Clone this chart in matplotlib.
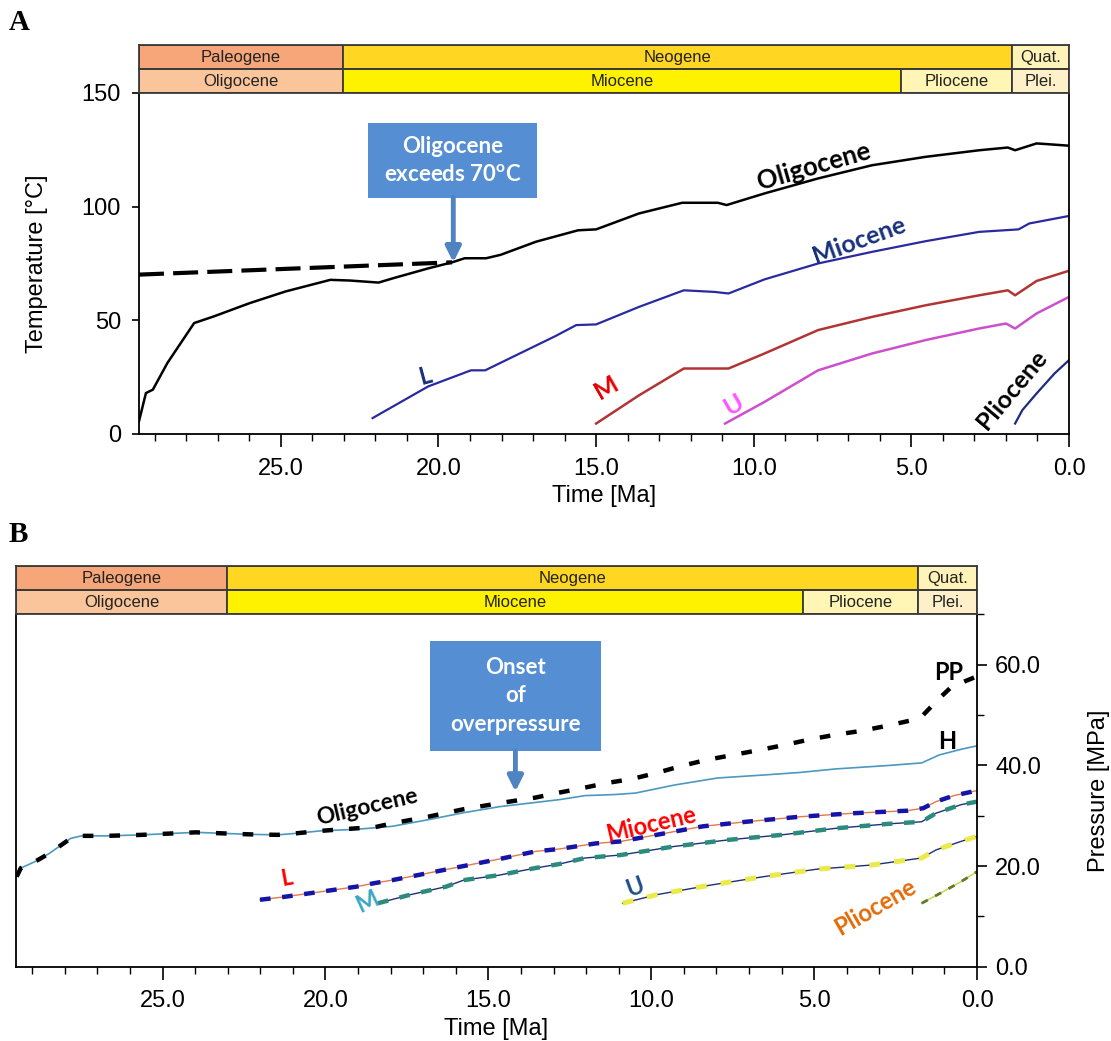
import numpy as np
import matplotlib
matplotlib.use("Agg")
import matplotlib.pyplot as plt
from matplotlib.patches import Rectangle
from matplotlib.ticker import MultipleLocator, FormatStrFormatter

plt.rcParams['font.family'] = ['Liberation Sans', 'DejaVu Sans']

# geologic time scale
periods = ["Paleogene", "Neogene", "Quat."]
period_bounds = [29.5, 23.03, 1.8, 0.0]
period_colors = ["#f6a679", "#ffd722", "#fff3b8"]
epochs = ["Oligocene", "Miocene", "Pliocene", "Plei."]
epoch_bounds = [29.5, 23.03, 5.33, 1.8, 0.0]
epoch_colors = ["#fbc59c", "#fff200", "#fff5b4", "#fef1c9"]

# ---- panel A : temperature history [Ma, degC]
a_olig_age = [29.5, 29.28, 29.06, 28.6, 27.75, 27.13, 26.0, 24.85, 23.43, 22.81, 21.9, 21.44,
              20.31, 19.57, 19.17, 18.49, 18.03, 16.9, 15.57, 15.0, 13.64, 12.27, 11.14, 10.86,
              9.66, 7.96, 6.25, 4.55, 2.85, 1.94, 1.71, 1.03, 0.70, 0.0]
a_olig_t = [5.6, 18.0, 19.5, 31.2, 48.8, 51.7, 57.5, 62.7, 67.8, 67.5, 66.6, 68.5,
            72.9, 75.5, 77.3, 77.3, 78.8, 84.6, 89.6, 90.0, 97.0, 101.7, 101.7, 100.7,
            105.8, 112.4, 118.2, 121.9, 124.8, 126.0, 124.8, 127.8, 127.5, 126.8]
a_trend_age = [29.5, 19.57]
a_trend_t = [70.1, 75.5]
a_mio_age = [22.09, 20.33, 18.97, 18.52, 16.3, 15.63, 15.0, 13.64, 12.22, 11.25, 10.8, 9.66,
             7.96, 6.25, 4.55, 2.85, 1.6, 1.26, 0.0]
a_mio_t = [7.0, 20.9, 28.0, 28.0, 43.0, 47.9, 48.2, 55.9, 63.2, 62.5, 61.8, 68.0,
           75.0, 80.1, 84.8, 88.9, 90.0, 92.6, 95.9]
a_m_age = [15.0, 13.64, 12.22, 10.8, 9.66, 7.96, 6.25, 4.55, 2.85, 1.94, 1.71, 1.03, 0.0]
a_m_t = [4.6, 17.0, 28.8, 28.8, 35.4, 45.7, 51.5, 56.6, 61.0, 63.2, 61.0, 67.3, 71.8]
a_u_age = [10.91, 9.66, 7.96, 6.25, 4.55, 2.85, 2.0, 1.71, 1.03, 0.0]
a_u_t = [4.6, 14.1, 28.0, 35.4, 41.3, 46.4, 48.6, 46.4, 53.0, 60.3]
a_plio_age = [1.71, 1.48, 1.03, 0.46, 0.0]
a_plio_t = [4.6, 10.5, 17.8, 26.6, 32.5]

# ---- panel B : pressure history [Ma, MPa]
b_h_age = [29.48, 29.35, 28.91, 28.48, 27.82, 27.49, 26.72, 25.63, 23.98, 22.34, 21.46, 20.91,
           20.14, 19.05, 17.95, 16.85, 15.76, 14.66, 12.82, 12.03, 11.15, 10.49, 9.29, 7.97,
           6.54, 5.44, 4.34, 2.69, 1.7, 1.15, 0.49, 0.0]
b_h_p = [17.9, 19.6, 20.9, 22.5, 25.5, 26.0, 26.0, 26.2, 26.7, 26.3, 26.2, 26.5,
         27.0, 27.3, 27.9, 29.2, 30.6, 31.8, 33.2, 34.0, 34.2, 34.5, 36.1, 37.5,
         38.1, 38.6, 39.3, 40.0, 40.5, 42.1, 43.2, 43.9]
b_pp_age = [29.48, 29.35, 28.91, 28.48, 27.82, 27.49, 26.72, 25.63, 23.98, 22.34, 21.46, 20.91,
            20.14, 19.05, 18.5, 17.95, 16.85, 15.76, 14.66, 13.56, 12.82, 12.03, 11.37, 10.6,
            9.84, 9.07, 8.3, 7.47, 6.65, 5.88, 5.11, 4.34, 3.52, 2.75, 1.92, 1.7, 1.21, 0.82,
            0.38, 0.0]
b_pp_p = [17.9, 19.6, 20.9, 22.5, 25.5, 26.0, 26.0, 26.2, 26.7, 26.3, 26.2, 26.5,
          27.0, 27.5, 27.7, 28.5, 29.8, 31.3, 32.5, 33.6, 34.6, 35.6, 36.5, 37.3,
          38.5, 39.9, 41.1, 42.1, 43.1, 44.1, 45.2, 46.1, 46.9, 47.9, 49.1, 49.7, 53.0, 55.4,
          56.7, 57.7]
b_l_age = [22.01, 21.24, 20.14, 19.05, 18.5, 17.95, 16.85, 15.76, 14.66, 13.56, 12.82, 11.7,
           10.93, 9.84, 8.41, 7.09, 5.44, 3.79, 2.14, 1.65, 1.26, 0.71, 0.0]
b_l_p = [13.3, 13.9, 14.9, 15.9, 16.6, 17.2, 18.6, 20.0, 21.4, 22.9, 23.4, 24.5,
         24.9, 26.2, 27.9, 28.8, 29.8, 30.5, 31.0, 31.5, 32.8, 34.0, 35.0]
b_m_age = [18.39, 17.4, 16.3, 15.76, 14.66, 13.56, 12.82, 12.03, 10.93, 9.29, 7.64, 5.99,
           4.34, 2.69, 1.7, 1.26, 0.49, 0.0]
b_m_p = [12.6, 14.3, 15.9, 17.2, 18.2, 19.6, 20.4, 21.6, 22.2, 23.9, 25.2, 26.2,
         27.5, 28.4, 28.8, 30.5, 32.2, 32.8]
b_u_age = [10.88, 9.84, 8.19, 6.54, 4.89, 3.24, 1.7, 1.26, 0.49, 0.0]
b_u_p = [12.6, 14.3, 16.2, 17.9, 19.4, 20.2, 21.6, 23.2, 24.9, 25.9]
b_plio_age = [1.7, 1.04, 0.49, 0.0]
b_plio_p = [12.6, 14.9, 16.9, 18.9]

XMAX = 29.5
LBL = dict(family=['Lato', 'DejaVu Sans'], fontweight='bold')
BOXC = "#568ed4"


def draw_bands(fig, left, bottom, width, h_low, h_up):
    rows = [(bottom + h_low, h_up, periods, period_bounds, period_colors),
            (bottom, h_low, epochs, epoch_bounds, epoch_colors)]
    for y0, h, names, bounds, cols in rows:
        bx = fig.add_axes([left, y0, width, h])
        bx.set_xlim(XMAX, 0)
        bx.set_ylim(0, 1)
        for i, name in enumerate(names):
            bx.barh(0.5, bounds[i + 1] - bounds[i], left=bounds[i], height=1.0,
                    color=cols[i], edgecolor="#3a3a3a", linewidth=1.3)
            bx.text((bounds[i] + bounds[i + 1]) / 2, 0.47, name, ha="center", va="center",
                    fontsize=12, color="#222222")
        bx.set_xticks([])
        bx.set_yticks([])
        for s in bx.spines.values():
            s.set_linewidth(1.3)
            s.set_color("#3a3a3a")


def style_time_axis(ax):
    ax.set_xlim(XMAX, 0)
    ax.xaxis.set_major_locator(MultipleLocator(5))
    ax.xaxis.set_minor_locator(MultipleLocator(1))
    ax.xaxis.set_major_formatter(FormatStrFormatter('%.1f'))
    ax.tick_params(axis='x', which='major', length=9, width=1.2, labelsize=17, pad=8)
    ax.tick_params(axis='x', which='minor', length=5, width=1.0)
    ax.set_xlabel("Time [Ma]", fontsize=17, labelpad=4)
    ax.spines['top'].set_visible(False)
    for s in ['left', 'right', 'bottom']:
        ax.spines[s].set_linewidth(1.3)


def callout(ax, x0, x1, y0, y1, text, tip_x, tip_y):
    ax.add_patch(Rectangle((x1, y0), x0 - x1, y1 - y0, facecolor=BOXC, edgecolor="none",
                           zorder=5, clip_on=False))
    ax.text((x0 + x1) / 2, (y0 + y1) / 2, text, ha="center", va="center", color="white",
            fontsize=16, linespacing=1.45, zorder=6, **LBL)
    ax.annotate("", xy=(tip_x, tip_y), xytext=(tip_x, y0),
                arrowprops=dict(arrowstyle="-|>,head_length=0.9,head_width=0.45",
                                color="#4f83c2", lw=3.5, shrinkA=0, shrinkB=0), zorder=6)


fig = plt.figure(figsize=(11.11, 10.41), dpi=100)

fig.text(0.008, 0.978, "A", fontsize=21, fontweight="bold", family="Liberation Serif", va="center")
fig.text(0.008, 0.487, "B", fontsize=21, fontweight="bold", family="Liberation Serif", va="center")

# ---------------- panel A
axA = fig.add_axes([0.1251, 0.5831, 0.8371, 0.3276])
draw_bands(fig, 0.1251, 0.9107, 0.8371, 0.0231, 0.0231)
axA.plot(a_trend_age, a_trend_t, color="black", lw=3, dashes=(6, 2.2))
axA.plot(a_olig_age, a_olig_t, color="black", lw=1.8)
axA.plot(a_mio_age, a_mio_t, color="#2a2aa0", lw=1.6)
axA.plot(a_m_age, a_m_t, color="#b23434", lw=1.8)
axA.plot(a_u_age, a_u_t, color="#cc4fcc", lw=1.8)
axA.plot(a_plio_age, a_plio_t, color="#1f2a80", lw=1.6)
axA.set_ylim(0, 150)
axA.yaxis.set_major_locator(MultipleLocator(50))
axA.tick_params(axis='y', length=5, width=1.2, labelsize=17, pad=8)
axA.set_ylabel("Temperature [°C]", fontsize=17, labelpad=24)
style_time_axis(axA)

axA.text(8.1, 117.6, "Oligocene", rotation=16, ha="center", va="center", fontsize=18.5,
         color="black", rotation_mode="anchor", **LBL)
axA.text(6.65, 85.4, "Miocene", rotation=20, ha="center", va="center", fontsize=18,
         color="#16307a", rotation_mode="anchor", **LBL)
axA.text(20.42, 25.3, "L", rotation=15, ha="center", va="center", fontsize=17,
         color="#16307a", rotation_mode="anchor", **LBL)
axA.text(14.66, 20.2, "M", rotation=30, ha="center", va="center", fontsize=18,
         color="#e60000", rotation_mode="anchor", **LBL)
axA.text(10.63, 12.9, "U", rotation=30, ha="center", va="center", fontsize=18,
         color="#ff55ff", rotation_mode="anchor", **LBL)
axA.text(1.82, 19.5, "Pliocene", rotation=50, ha="center", va="center", fontsize=18,
         color="black", rotation_mode="anchor", **LBL)
callout(axA, 22.24, 16.86, 104.0, 136.6, "Oligocene\nexceeds 70$^{\\mathregular{o}}$C",
        19.53, 75.5)

# ---------------- panel B
axB = fig.add_axes([0.0144, 0.0714, 0.8650, 0.3388])
draw_bands(fig, 0.0144, 0.4102, 0.8650, 0.0231, 0.0231)
axB.plot(b_h_age, b_h_p, color="#4b98c0", lw=1.2)
axB.plot(b_pp_age, b_pp_p, color="black", lw=3.2, dashes=(2.4, 3.6))
axB.plot(b_l_age, b_l_p, color="#e07a4a", lw=1.0)
axB.plot(b_l_age, b_l_p, color="#1414a8", lw=3.2, dashes=(2.4, 2.6))
axB.plot(b_m_age, b_m_p, color="#1f2f7a", lw=1.0)
axB.plot(b_m_age, b_m_p, color="#2b8c7c", lw=3.2, dashes=(2.4, 2.6))
axB.plot(b_u_age, b_u_p, color="#1f2f7a", lw=1.0)
axB.plot(b_u_age, b_u_p, color="#eaea4a", lw=3.6, dashes=(2.2, 2.8))
axB.plot(b_plio_age, b_plio_p, color="#c8d85a", lw=1.2)
axB.plot(b_plio_age, b_plio_p, color="#5e7a2a", lw=2.0, dashes=(2.5, 3.0))
axB.set_ylim(0, 70.1)
axB.yaxis.tick_right()
axB.yaxis.set_label_position("right")
axB.yaxis.set_major_locator(MultipleLocator(20))
axB.yaxis.set_minor_locator(MultipleLocator(10))
axB.yaxis.set_major_formatter(FormatStrFormatter('%.1f'))
axB.tick_params(axis='y', which='major', length=7, width=1.2, labelsize=17, pad=6)
axB.tick_params(axis='y', which='minor', length=5, width=1.0)
axB.set_ylabel("Pressure [MPa]", fontsize=17, labelpad=34)
style_time_axis(axB)

axB.text(18.72, 31.8, "Oligocene", rotation=13, ha="center", va="center", fontsize=16.5,
         color="black", rotation_mode="anchor", **LBL)
axB.text(10.0, 28.2, "Miocene", rotation=13, ha="center", va="center", fontsize=17,
         color="#ff0000", rotation_mode="anchor", **LBL)
axB.text(21.18, 17.6, "L", rotation=10, ha="center", va="center", fontsize=16,
         color="#ff0000", rotation_mode="anchor", **LBL)
axB.text(18.72, 12.9, "M", rotation=25, ha="center", va="center", fontsize=17,
         color="#3aa6c4", rotation_mode="anchor", **LBL)
axB.text(10.49, 15.9, "U", rotation=20, ha="center", va="center", fontsize=17,
         color="#1f4e8c", rotation_mode="anchor", **LBL)
axB.text(3.13, 11.9, "Pliocene", rotation=30, ha="center", va="center", fontsize=17,
         color="#e46c0a", rotation_mode="anchor", **LBL)
axB.text(0.88, 58.4, "PP", ha="center", va="center", fontsize=17, color="black", **LBL)
axB.text(0.91, 44.8, "H", ha="center", va="center", fontsize=17, color="black", **LBL)
callout(axB, 16.78, 11.54, 42.9, 64.7, "Onset\nof\noverpressure", 14.17, 34.8)

fig.savefig("out.png", dpi=100)
